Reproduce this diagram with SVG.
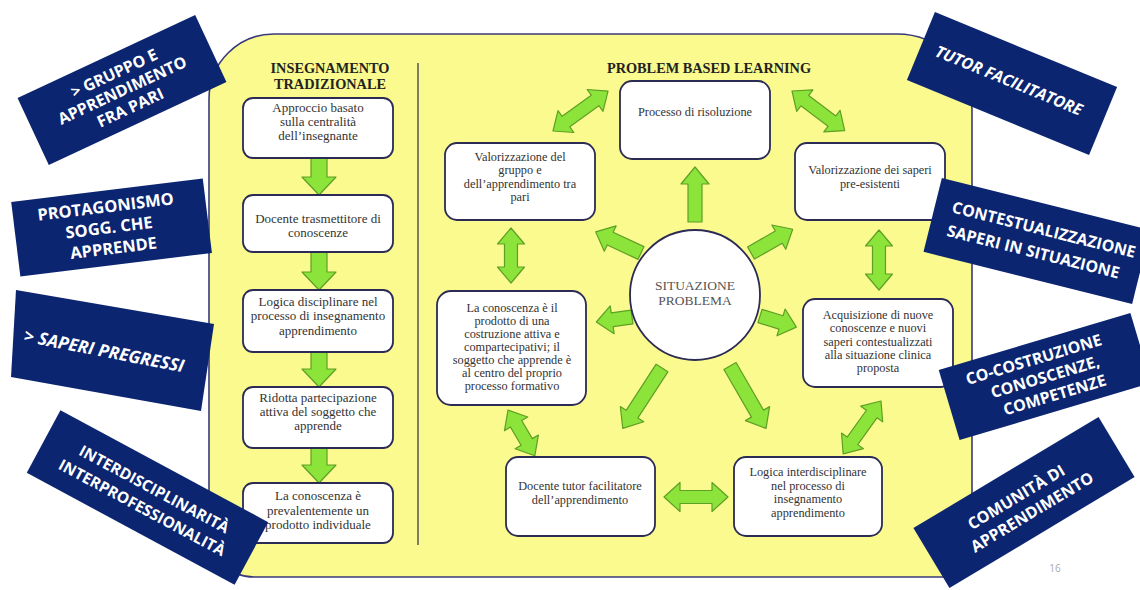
<svg xmlns="http://www.w3.org/2000/svg" width="1140" height="590" viewBox="0 0 1140 590">
<style>
.panel{fill:#FAFA8E;stroke:#3a3a7a;stroke-width:1.6}
.box{fill:#ffffff;stroke:#2b2b55;stroke-width:1.8}
.t{font-family:"Liberation Serif",serif;font-size:13px;fill:#333;text-anchor:middle}
.tr{font-family:"Liberation Serif",serif;font-size:12.3px;fill:#333;text-anchor:middle}
.h{font-family:"Liberation Serif",serif;font-size:14.3px;font-weight:bold;fill:#222;text-anchor:middle}
.arr{fill:#8CE43A;stroke:#5E9F25;stroke-width:1.2;stroke-linejoin:round}
.lab{fill:#0B2570}
.lt{font-family:"Open Sans",sans-serif;font-weight:bold;font-size:16px;fill:#ffffff;text-anchor:middle}
.it{font-style:italic}
</style>
<rect width="1140" height="590" fill="#ffffff"/>
<path class="panel" d="M 274,34 H 897 A 75,75 0 0 1 972,109 V 547 A 30,30 0 0 1 942,577 H 254 A 45,45 0 0 1 209,532 V 99 A 65,65 0 0 1 274,34 Z"/>
<line x1="418" y1="63" x2="418" y2="545" stroke="#555" stroke-width="1.5"/>
<text class="h" x="330" y="73">INSEGNAMENTO</text>
<text class="h" x="330" y="89">TRADIZIONALE</text>
<text class="h" x="709" y="73">PROBLEM  BASED LEARNING</text>

<g id="connectors">
  <g id="left-arrows">
    <polygon class="arr" transform="translate(319,158) rotate(90)" points="0,-8 19,-8 19,-17 37,0 19,17 19,8 0,8"/>
    <polygon class="arr" transform="translate(319,252) rotate(90)" points="0,-8 20,-8 20,-17 38,0 20,17 20,8 0,8"/>
    <polygon class="arr" transform="translate(319,352) rotate(90)" points="0,-8 17,-8 17,-17 35,0 17,17 17,8 0,8"/>
    <polygon class="arr" transform="translate(319,448) rotate(90)" points="0,-8 17,-8 17,-17 35,0 17,17 17,8 0,8"/>
  </g>
  <polygon class="arr" transform="translate(695,222) rotate(-90)" points="0,-7 38,-7 38,-14 55,0 38,14 38,7 0,7"/>
  <polygon class="arr" transform="translate(553,131) rotate(-36)" points="0,0 16,-13.5 16,-6.5 52,-6.5 52,-13.5 68,0 52,13.5 52,6.5 16,6.5 16,13.5"/>
  <polygon class="arr" transform="translate(792,91) rotate(37)" points="0,0 16,-13.5 16,-6.5 50,-6.5 50,-13.5 66,0 50,13.5 50,6.5 16,6.5 16,13.5"/>
  <polygon class="arr" transform="translate(511,228) rotate(90)" points="0,0 16,-13.5 16,-6.5 39,-6.5 39,-13.5 55,0 39,13.5 39,6.5 16,6.5 16,13.5"/>
  <polygon class="arr" transform="translate(879,230) rotate(90)" points="0,0 16,-13.5 16,-6.5 44,-6.5 44,-13.5 60,0 44,13.5 44,6.5 16,6.5 16,13.5"/>
  <polygon class="arr" transform="translate(508,410) rotate(59.6)" points="0,0 16,-13.5 16,-6.5 37,-6.5 37,-13.5 53,0 37,13.5 37,6.5 16,6.5 16,13.5"/>
  <polygon class="arr" transform="translate(881,401) rotate(125.6)" points="0,0 16,-13.5 16,-6.5 49,-6.5 49,-13.5 65,0 49,13.5 49,6.5 16,6.5 16,13.5"/>
  <polygon class="arr" transform="translate(664,497)" points="0,0 16,-14.5 16,-6.5 48,-6.5 48,-14.5 64,0 48,14.5 48,6.5 16,6.5 16,14.5"/>
  <polygon class="arr" transform="translate(641,253) rotate(-155)" points="0,-7 34,-7 34,-14 50,0 34,14 34,7 0,7"/>
  <polygon class="arr" transform="translate(751,253) rotate(-29.7)" points="0,-7 32,-7 32,-14 48,0 32,14 32,7 0,7"/>
  <polygon class="arr" transform="translate(632,317) rotate(172)" points="0,-7 20,-7 20,-14 36,0 20,14 20,7 0,7"/>
  <polygon class="arr" transform="translate(760,316) rotate(17)" points="0,-7 22,-7 22,-14 38,0 22,14 22,7 0,7"/>
  <polygon class="arr" transform="translate(662,368) rotate(123)" points="0,-7 55,-7 55,-14 72,0 55,14 55,7 0,7"/>
  <polygon class="arr" transform="translate(730,366) rotate(60)" points="0,-7 55,-7 55,-14 72,0 55,14 55,7 0,7"/>
</g>

<g id="trad-1">
  <rect class="box" x="243" y="98" width="150" height="60" rx="10"/>
  <text class="t" x="318" y="112">Approccio basato</text>
  <text class="t" x="318" y="126">sulla centralità</text>
  <text class="t" x="318" y="140">dell’insegnante</text>
</g>
<g id="trad-2">
  <rect class="box" x="243" y="195" width="150" height="57" rx="10"/>
  <text class="t" x="318" y="223">Docente trasmettitore di</text>
  <text class="t" x="318" y="237">conoscenze</text>
</g>
<g id="trad-3">
  <rect class="box" x="243" y="290" width="150" height="62" rx="10"/>
  <text class="t" x="318" y="306">Logica disciplinare nel</text>
  <text class="t" x="318" y="320">processo di insegnamento</text>
  <text class="t" x="318" y="335">apprendimento</text>
</g>
<g id="trad-4">
  <rect class="box" x="243" y="387" width="150" height="61" rx="10"/>
  <text class="t" x="318" y="402">Ridotta partecipazione</text>
  <text class="t" x="318" y="416">attiva del soggetto che</text>
  <text class="t" x="318" y="430">apprende</text>
</g>
<g id="trad-5">
  <rect class="box" x="243" y="483" width="150" height="60" rx="10"/>
  <text class="t" x="318" y="500">La conoscenza è</text>
  <text class="t" x="318" y="515">prevalentemente un</text>
  <text class="t" x="318" y="529">prodotto individuale</text>
</g>

<g id="pbl-processo">
  <rect class="box" x="620" y="81" width="150" height="78" rx="12"/>
  <text class="tr" x="695" y="116">Processo di risoluzione</text>
</g>
<g id="pbl-gruppo">
  <rect class="box" x="445" y="143" width="150" height="77" rx="12"/>
  <text class="tr" x="520" y="161">Valorizzazione del</text>
  <text class="tr" x="520" y="174">gruppo e</text>
  <text class="tr" x="520" y="188">dell’apprendimento tra</text>
  <text class="tr" x="520" y="201">pari</text>
</g>
<g id="pbl-saperi">
  <rect class="box" x="795" y="143" width="150" height="77" rx="12"/>
  <text class="tr" x="870" y="174">Valorizzazione dei saperi</text>
  <text class="tr" x="870" y="188">pre-esistenti</text>
</g>
<g id="pbl-situazione">
  <circle class="box" cx="695" cy="295" r="65"/>
  <text class="tr" x="695" y="290" style="fill:#555;font-size:13.5px">SITUAZIONE</text>
  <text class="tr" x="695" y="305" style="fill:#555;font-size:13.5px">PROBLEMA</text>
</g>
<g id="pbl-conoscenza">
  <rect class="box" x="437" y="291" width="149" height="114" rx="14"/>
  <text class="tr" x="512" y="312">La conoscenza è il</text>
  <text class="tr" x="512" y="325">prodotto di una</text>
  <text class="tr" x="512" y="338">costruzione attiva e</text>
  <text class="tr" x="512" y="351">compartecipativi; il</text>
  <text class="tr" x="512" y="364">soggetto che apprende è</text>
  <text class="tr" x="512" y="377">al centro del proprio</text>
  <text class="tr" x="512" y="390">processo formativo</text>
</g>
<g id="pbl-acquisizione">
  <rect class="box" x="803" y="299" width="150" height="88" rx="12"/>
  <text class="tr" x="878" y="319">Acquisizione di nuove</text>
  <text class="tr" x="878" y="332">conoscenze e nuovi</text>
  <text class="tr" x="878" y="346">saperi contestualizzati</text>
  <text class="tr" x="878" y="359">alla situazione clinica</text>
  <text class="tr" x="878" y="372">proposta</text>
</g>
<g id="pbl-docente">
  <rect class="box" x="506" y="457" width="149" height="79" rx="12"/>
  <text class="tr" x="580" y="490">Docente tutor facilitatore</text>
  <text class="tr" x="580" y="504">dell’apprendimento</text>
</g>
<g id="pbl-logica">
  <rect class="box" x="734" y="457" width="148" height="79" rx="12"/>
  <text class="tr" x="808" y="476">Logica interdisciplinare</text>
  <text class="tr" x="808" y="490">nel processo di</text>
  <text class="tr" x="808" y="503">insegnamento</text>
  <text class="tr" x="808" y="517">apprendimento</text>
</g>

<g id="label-gruppo" transform="translate(122,90) rotate(-25)">
  <rect class="lab" x="-98" y="-37" width="196" height="74"/>
  <text class="lt" x="0" y="-13">&gt; GRUPPO E</text>
  <text class="lt" x="0" y="6">APPRENDIMENTO</text>
  <text class="lt" x="0" y="25">FRA PARI</text>
</g>
<g id="label-protagonismo" transform="translate(111,227) rotate(-7)">
  <rect class="lab" x="-96" y="-37" width="193" height="75"/>
  <text class="lt" x="-3" y="-15" style="font-size:16.5px">PROTAGONISMO</text>
  <text class="lt" x="-2" y="6" style="font-size:16.5px">SOGG. CHE</text>
  <text class="lt" x="0" y="27" style="font-size:16.5px">APPRENDE</text>
</g>
<g id="label-saperi">
  <polygon class="lab" points="16,290 214,324 201,411 11,377"/>
  <text class="lt it" transform="translate(104,351) rotate(11)" x="0" y="6" style="font-size:17.5px">&gt; SAPERI PREGRESSI</text>
</g>
<g id="label-interdisciplinarita" transform="translate(147.5,497.5) rotate(28.3)">
  <rect class="lab" x="-118" y="-35.5" width="236" height="71"/>
  <text class="lt" x="2" y="-5" style="font-size:15.5px">INTERDISCIPLINARITÀ</text>
  <text class="lt" x="0" y="17" style="font-size:15.5px">INTERPROFESSIONALITÀ</text>
</g>
<g id="label-tutor" transform="translate(1012,83.5) rotate(22.4)">
  <rect class="lab" x="-98.5" y="-36.75" width="197" height="73.5"/>
  <text class="lt it" x="-4" y="4">TUTOR FACILITATORE</text>
</g>
<g id="label-contestualizzazione" transform="translate(1037,241) rotate(14)">
  <rect class="lab" x="-107.5" y="-38" width="215" height="76"/>
  <text class="lt" x="4" y="-7">CONTESTUALIZZAZIONE</text>
  <text class="lt" x="-1" y="17">SAPERI IN SITUAZIONE</text>
</g>
<g id="label-cocostruzione" transform="translate(1045,376.5) rotate(-16.6)">
  <rect class="lab" x="-100" y="-36.5" width="200" height="73"/>
  <text class="lt" x="-6" y="-14">CO-COSTRUZIONE</text>
  <text class="lt" x="0" y="6">CONOSCENZE,</text>
  <text class="lt" x="4" y="26">COMPETENZE</text>
</g>
<g id="label-comunita" transform="translate(1024,502.5) rotate(-31)">
  <rect class="lab" x="-108" y="-35" width="216" height="70"/>
  <text class="lt" x="-4" y="-3">COMUNITÀ DI</text>
  <text class="lt" x="2" y="18">APPRENDIMENTO</text>
</g>
<text x="1055" y="572" style="font-family:'Open Sans',sans-serif;font-size:10px;fill:#aaa;text-anchor:middle">16</text>
</svg>
